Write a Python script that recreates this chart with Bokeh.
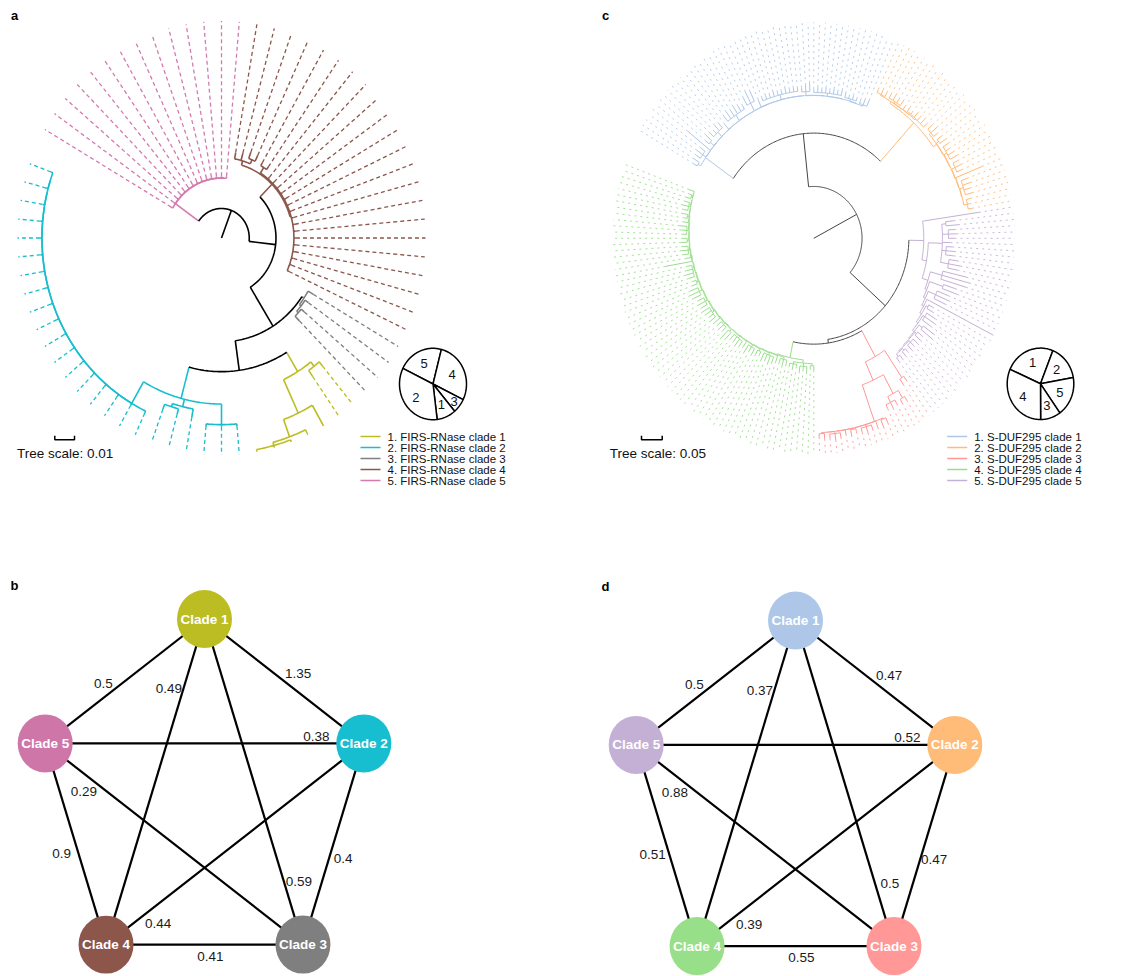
import math
from bokeh.plotting import figure
from bokeh.models import Range1d
from bokeh.embed import file_html
from bokeh.resources import INLINE
from bokeh.core.properties import value

FONT = "Liberation Sans"

# ------------------------------------------------------------------ helpers for tree data
def nd(r, kids, clade=None):
    return {"r": r, "kids": kids, "clade": clade}

def item(x):
    return nd(x[0], list(x[1])) if isinstance(x, tuple) else x

def ladder(steps):
    node = item(steps[-1][1])
    for lr, it in reversed(steps[:-1]):
        node = nd(lr, [item(it), node])
    return node

def clade(k, node):
    node["clade"] = k
    return node

# ------------------------------------------------------------------ panel a / b data
A_LEGEND = ["1. FIRS-RNase clade 1", "2. FIRS-RNase clade 2", "3. FIRS-RNase clade 3",
            "4. FIRS-RNase clade 4", "5. FIRS-RNase clade 5"]
A_COLORS = ["#BCBD22", "#17BECF", "#7F7F7F", "#8C564B", "#D47AAF"]
A_PIE_ORDER = ["5", "4", "3", "1", "2"]
A_PIE_SHARE = [21.8, 28.2, 6.6, 9.2, 34.2]
A_SCALE = "Tree scale: 0.01"

PINK_R = [0.285, 0.285, 0.285, 0.285, 0.285, 0.285, 0.285, 0.285, 0.285, 0.285, 0.285, 0.285, 0.285, 0.285]
BROWN_REST_R = [0.365, 0.365, 0.365, 0.365, 0.365, 0.365, 0.365, 0.365, 0.365, 0.365, 0.365, 0.365, 0.365, 0.365, 0.365, 0.365]
CYAN_LEFT_R = [0.89, 0.89, 0.89, 0.89, 0.89, 0.89, 0.89, 0.89, 0.89, 0.89, 0.89, 0.89, 0.89, 0.89, 0.89, 0.89, 0.89, 0.89]

TREE_A = nd(0.136, [
    clade(5, ladder([(0.276, r) for r in PINK_R])),
    nd(0.267, [
        clade(4, nd(0.35, [
            nd(0.37, [0.40, 0.405, nd(0.39, [0.42, 0.42])]),
            nd(0.355, [nd(0.385, [0.40, 0.40])] + BROWN_REST_R),
        ])),
        nd(0.478, [
            clade(3, nd(0.49, [0.52, nd(0.50, [0.52, nd(0.51, [0.53, 0.54])])])),
            nd(0.616, [
                clade(1, nd(0.72, [nd(0.745, [0.77, 0.78]),
                                   nd(0.89, [1.0, nd(0.975, [0.99, nd(0.99, [1.0, 1.0, 1.0])])])])),
                clade(2, nd(0.765, [nd(0.86, [0.87, 0.87, 0.87]),
                                    nd(0.80, [0.84, nd(0.815, [0.84, 0.84])]),
                                    ladder([(0.88, r) for r in CYAN_LEFT_R])])),
            ]),
        ]),
    ]),
])

B_EDGES = [(1, 5), (1, 4), (1, 2), (5, 2), (5, 3), (5, 4), (2, 3), (1, 3), (2, 4), (4, 3)]
B_WEIGHTS = [0.5, 0.49, 1.35, 0.38, 0.29, 0.9, 0.4, 0.59, 0.44, 0.41]

# ------------------------------------------------------------------ panel c / d data
C_LEGEND = ["1. S-DUF295 clade 1", "2. S-DUF295 clade 2", "3. S-DUF295 clade 3",
            "4. S-DUF295 clade 4", "5. S-DUF295 clade 5"]
C_COLORS = ["#AEC7E8", "#FFBB78", "#FF9896", "#98DF8A", "#C5B0D5"]
C_PIE_ORDER = ["1", "2", "5", "3", "4"]
C_PIE_SHARE = [24.4, 16.1, 18.0, 9.8, 31.7]
C_SCALE = "Tree scale: 0.05"

BLUE = [
    (0.655, (0.67, [0.69, 0.70])),
    (0.655, (0.675, [0.70, 0.71, 0.70])),
    (0.656, 0.80),
    (0.657, (0.68, [0.70, 0.72])),
    (0.658, (0.685, [0.71, 0.70, 0.72, 0.71])),
    (0.659, 0.69),
    (0.660, (0.69, [0.72, 0.73, 0.72, 0.73, 0.72, 0.71])),
    (0.661, (0.70, [0.74, 0.76, 0.75])),
    (0.662, 0.70),
    (0.662, (0.685, [0.70, 0.705, 0.70, 0.71, 0.70, 0.70, 0.71, 0.70, 0.705, 0.70])),
    (0.661, (0.68, [0.70, 0.71, 0.72])),
    (0.660, (0.675, [0.69, 0.70, 0.69, 0.70, 0.69, 0.70, 0.69, 0.70])),
    (0.658, (0.67, [0.69, 0.68, 0.69, 0.68])),
    (0.656, (0.665, [0.68, 0.69, 0.695])),
]
ORANGE_TOP = [
    (0.740, (0.745, [0.76, 0.77, 0.765])),
    (0.742, (0.75, [0.77, 0.78, 0.77, 0.775])),
    (0.744, 0.76),
    (0.746, (0.75, [0.77, 0.76, 0.775, 0.77, 0.78, 0.77])),
]
ORANGE_LOW = [
    (0.750, (0.76, [0.79, 0.80, 0.78])),
    (0.752, (0.765, [0.79, 0.80])),
    (0.755, (0.77, [0.80, 0.79, 0.80, 0.81])),
    (0.757, (0.775, [0.80, 0.81, 0.80])),
    (0.760, 0.90),
    (0.762, (0.78, [0.81, 0.82, 0.81, 0.815])),
    (0.765, (0.78, [0.80, 0.79, 0.80])),
]
PURPLE_A = [(0.66, [0.70, 0.72]), (0.67, [0.70, 0.71, 0.70]), 0.68,
            (0.66, [0.69, 0.70, 0.70]), (0.68, [0.72, 0.74, 0.73])]
PURPLE_B = [
    (0.600, (0.66, [0.78, 0.80, 0.79])),
    (0.610, (0.68, [0.74, 0.76])),
    (0.620, (0.66, [0.72, 0.73, 0.72])),
    (0.630, 1.0),
    (0.640, (0.65, [0.67, 0.68])),
    (0.650, (0.66, [0.71, 0.72, 0.71])),
    (0.660, (0.68, [0.74, 0.75])),
    (0.665, (0.675, [0.70, 0.71])),
    (0.670, (0.68, [0.71, 0.70, 0.71])),
    (0.675, (0.685, [0.70, 0.71])),
    (0.680, (0.69, [0.71, 0.71])),
]
RED_LOW = [
    (0.90, (0.905, [0.93, 0.94])),
    (0.90, 0.93),
    (0.90, (0.91, [0.93, 0.94, 0.93])),
    (0.90, (0.905, [0.92, 0.93])),
    (0.90, 0.92),
    (0.90, (0.91, [0.93, 0.94, 0.93])),
    (0.90, (0.905, [0.93, 0.92])),
]
GREEN_B = [(0.59, [0.61, 0.60]), (0.595, [0.62, 0.61, 0.62]), (0.59, [0.60, 0.61, 0.60])]
GREEN_L = [
    (0.570, (0.58, [0.60, 0.61, 0.60])),
    (0.572, 0.60),
    (0.575, (0.585, [0.61, 0.62, 0.61, 0.62])),
    (0.578, (0.588, [0.60, 0.61])),
    (0.580, (0.59, [0.62, 0.61, 0.63])),
    (0.583, 0.61),
    (0.586, (0.595, [0.62, 0.63, 0.62, 0.62])),
    (0.590, (0.60, [0.64, 0.65])),
    (0.593, (0.60, [0.62, 0.63, 0.62])),
    (0.596, 0.63),
    (0.600, (0.61, [0.64, 0.63, 0.64, 0.65])),
    (0.603, (0.613, [0.64, 0.65, 0.64])),
    (0.606, (0.62, [0.66, 0.67, 0.66])),
    (0.609, (0.617, [0.64, 0.63])),
    (0.612, (0.62, [0.65, 0.66, 0.65, 0.64])),
    (0.615, 0.75),
    (0.618, 0.64),
    (0.620, (0.627, [0.65, 0.66, 0.65])),
    (0.622, (0.63, [0.66, 0.65])),
    (0.625, (0.633, [0.65, 0.66, 0.67])),
    (0.628, 0.65),
    (0.630, (0.637, [0.65, 0.66])),
    (0.632, (0.64, [0.66, 0.67, 0.66])),
    (0.633, (0.64, [0.66, 0.65])),
    (0.634, 0.66),
]

TREE_C = nd(0.24, [
    nd(0.487, [
        clade(1, ladder(BLUE)),
        clade(2, nd(0.73, [ladder(ORANGE_TOP), ladder(ORANGE_LOW)])),
    ]),
    nd(0.473, [
        clade(5, nd(0.547, [0.83, nd(0.57, [nd(0.64, [item(x) for x in PURPLE_A]), ladder(PURPLE_B)])])),
        nd(0.49, [
            clade(3, nd(0.627, [nd(0.78, [0.80, 0.81]),
                                nd(0.72, [nd(0.82, [nd(0.86, [0.88, 0.88]), nd(0.85, [0.87, 0.88, 0.87])]),
                                          ladder(RED_LOW)])])),
            clade(4, nd(0.565, [nd(0.58, [item(x) for x in GREEN_B]), ladder(GREEN_L)])),
        ]),
    ]),
])

D_WEIGHTS = [0.5, 0.37, 0.47, 0.52, 0.88, 0.51, 0.47, 0.5, 0.39, 0.55]

# ------------------------------------------------------------------ layout constants
W, H = 1121, 976
ARC_SPAN = 350.0
ARC_START = 150.0

p = figure(width=W, height=H, x_range=Range1d(0, W), y_range=Range1d(H, 0),
           output_backend="svg", toolbar_location=None, min_border=0,
           x_axis_location=None, y_axis_location=None)
p.grid.visible = False
p.outline_line_color = None
p.background_fill_color = "white"


def count_leaves(node):
    if not isinstance(node, dict):
        return 1
    return sum(count_leaves(k) for k in node["kids"])


def tree_lines(root, cx, cy, rx, ry, colors, base):
    n = count_leaves(root)
    step = ARC_SPAN / (n - 1)
    S = ([], [], [])
    D = ([], [], [])
    cnt = [0]

    def P(r, a):
        t = math.radians(a)
        return cx + rx * r * math.cos(t), cy - ry * r * math.sin(t)

    def add(store, pts, col):
        store[0].append([q[0] for q in pts])
        store[1].append([q[1] for q in pts])
        store[2].append(col)

    def walk(node, pr, col):
        if not isinstance(node, dict):
            a = ARC_START - cnt[0] * step
            cnt[0] += 1
            add(S, [P(pr, a), P(node, a)], col)
            if node < 0.995:
                add(D, [P(node, a), P(1.0, a)], col)
            return a
        if node.get("clade"):
            col = colors[node["clade"] - 1]
        r = node["r"]
        angs = [walk(k, r, col) for k in node["kids"]]
        a0, a1 = angs[0], angs[-1]
        m = max(2, int(abs(a1 - a0) / 0.8) + 2)
        add(S, [P(r, a0 + (a1 - a0) * i / (m - 1)) for i in range(m)], col)
        a = (a0 + a1) / 2
        add(S, [P(pr, a), P(r, a)], col)
        return a

    walk(root, 0.0, base)
    return S, D


def draw_tree(root, cx, cy, rx, ry, colors, base, lw, dash, dash_w, dash_alpha):
    S, D = tree_lines(root, cx, cy, rx, ry, colors, base)
    p.multi_line(xs=D[0], ys=D[1], line_color=D[2], line_width=dash_w, line_dash=dash,
                 line_alpha=dash_alpha)
    p.multi_line(xs=S[0], ys=S[1], line_color=S[2], line_width=lw)


def draw_pie(cx, cy, rx, ry, shares, labels, start):
    total = sum(shares)
    ang = start
    xs, ys, lx, ly = [], [], [], []
    for sh in shares:
        a0 = ang
        a1 = ang + sh / total * 360.0
        m = max(3, int((a1 - a0) / 2) + 2)
        px = [cx] + [cx + rx * math.sin(math.radians(a0 + (a1 - a0) * i / (m - 1))) for i in range(m)]
        py = [cy] + [cy - ry * math.cos(math.radians(a0 + (a1 - a0) * i / (m - 1))) for i in range(m)]
        xs.append(px)
        ys.append(py)
        mid = math.radians((a0 + a1) / 2)
        f = 0.8 if sh / total < 0.08 else 0.63
        lx.append(cx + rx * f * math.sin(mid))
        ly.append(cy - ry * f * math.cos(mid))
        ang = a1
    p.patches(xs=xs, ys=ys, fill_color="white", line_color="black", line_width=1.5)
    p.text(x=lx, y=ly, text=labels, text_font=value(FONT), text_font_size="13px",
           text_align="center", text_baseline="middle", text_color="#111111")


def draw_legend(x0, y0, names, colors):
    ys = [y0 + 11 * i for i in range(len(names))]
    p.segment(x0=[x0] * len(names), y0=ys, x1=[x0 + 20] * len(names), y1=ys,
              line_color=colors, line_width=1.5)
    p.text(x=[x0 + 27] * len(names), y=ys, text=names, text_font=value(FONT),
           text_font_size="11.5px", text_baseline="middle", text_align="left", text_color="#111111")


def draw_scale(x0, y0, length, label, tx, ty):
    p.multi_line(xs=[[x0, x0, x0 + length, x0 + length]], ys=[[y0 - 4, y0, y0, y0 - 4]],
                 line_color="black", line_width=1.5)
    p.text(x=[tx], y=[ty], text=[label], text_font=value(FONT), text_font_size="13.5px",
           text_baseline="middle", text_align="left", text_color="#111111")


def draw_network(cx, cy, Rx, Ry, colors, weights):
    angs = [90, 18, -54, -126, 162]
    pos = {k + 1: (cx + Rx * math.cos(math.radians(a)), cy - Ry * math.sin(math.radians(a)))
           for k, a in enumerate(angs)}
    lab_t = [0.59, 0.227, 0.532, 0.8515, 0.1835, 0.5225, 0.551, 0.819, 0.834, 0.53]
    lab_s = [-11.75, -13.96, 14.48, 7.2, -14.17, -16.16, 13.49, 14.25, 15.24, -11.6]
    x0s, y0s, x1s, y1s, lx, ly = [], [], [], [], [], []
    for (a, b), t, s in zip(B_EDGES, lab_t, lab_s):
        ax, ay = pos[a]
        bx, by = pos[b]
        vx, vy = bx - ax, by - ay
        ln = math.hypot(vx, vy)
        x0s.append(ax); y0s.append(ay); x1s.append(bx); y1s.append(by)
        lx.append(ax + t * vx + s * vy / ln)
        ly.append(ay + t * vy - s * vx / ln)
    p.segment(x0=x0s, y0=y0s, x1=x1s, y1=y1s, line_color="black", line_width=2.2)
    p.text(x=lx, y=ly, text=[str(w) for w in weights], text_font=value(FONT),
           text_font_size="13.5px", text_align="center", text_baseline="middle", text_color="#1a1a1a")
    nx = [pos[k][0] for k in range(1, 6)]
    ny = [pos[k][1] for k in range(1, 6)]
    p.ellipse(x=nx, y=ny, width=55, height=58, fill_color=colors, line_color=None)
    p.text(x=nx, y=ny, text=["Clade %d" % k for k in range(1, 6)], text_font=value(FONT),
           text_font_size="13.5px", text_font_style="bold", text_color="white",
           text_align="center", text_baseline="middle")


# ------------------------------------------------------------------ panel a
draw_tree(TREE_A, 221, 237.5, 204, 217, A_COLORS, "black", 1.6, "4 3", 1.3, 1.0)
draw_pie(432.5, 383.5, 33.5, 35.7, A_PIE_SHARE, A_PIE_ORDER, 296.0)
draw_legend(360, 436, A_LEGEND, A_COLORS)
draw_scale(54.3, 439.3, 19.7, A_SCALE, 16.5, 452.5)

# ------------------------------------------------------------------ panel c
draw_tree(TREE_C, 813.3, 237.8, 201, 216, C_COLORS, "#444444", 1.0, "2 4", 1.0, 0.9)
draw_pie(1040, 383.3, 33.3, 35.7, C_PIE_SHARE, C_PIE_ORDER, 293.9)
draw_legend(946.7, 436, C_LEGEND, C_COLORS)
draw_scale(641, 439.3, 20.7, C_SCALE, 609.3, 452.5)

# ------------------------------------------------------------------ panels b and d
b_colors = [A_COLORS[0], A_COLORS[1], A_COLORS[2], A_COLORS[3], "#CF76A9"]
draw_network(204, 798.5, 167.5, 180, b_colors, B_WEIGHTS)
draw_network(795, 800, 167.5, 180, C_COLORS, D_WEIGHTS)

# ------------------------------------------------------------------ panel letters
p.text(x=[14, 605, 14, 605], y=[15, 15, 585, 586], text=["a", "c", "b", "d"],
       text_font=value(FONT), text_font_size="13px", text_font_style="bold",
       text_align="center", text_baseline="middle", text_color="black")

open("out.html", "w").write(file_html(p, INLINE))
